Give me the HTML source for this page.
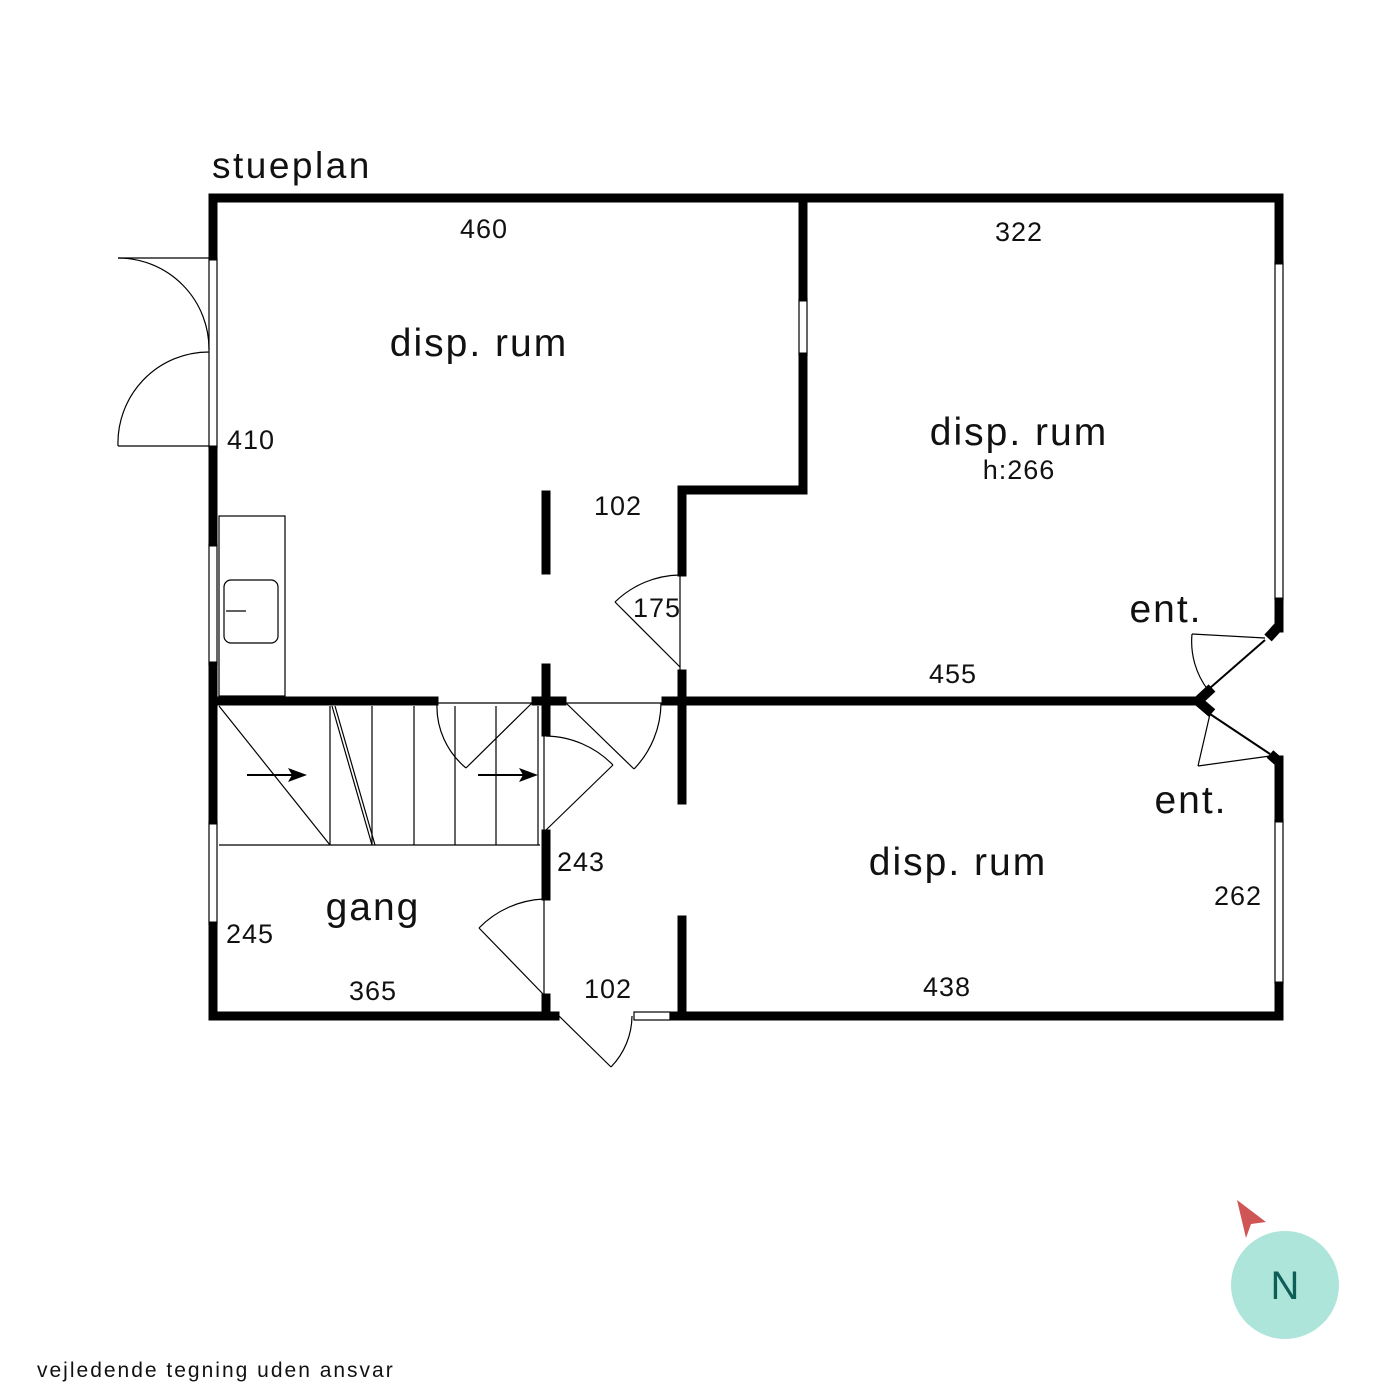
<!DOCTYPE html>
<html><head><meta charset="utf-8"><style>
html,body{margin:0;padding:0;background:#fff;}
svg{display:block;}
text{font-family:"Liberation Sans",sans-serif;fill:#111;}
</style></head><body>
<svg width="1400" height="1400" viewBox="0 0 1400 1400" xmlns="http://www.w3.org/2000/svg">
<g stroke="#000" stroke-width="9" stroke-linecap="square" fill="none">
<line x1="213" y1="198" x2="1279" y2="198"/>
<line x1="213" y1="198" x2="213" y2="256"/>
<line x1="213" y1="450" x2="213" y2="542"/>
<line x1="213" y1="666" x2="213" y2="820"/>
<line x1="213" y1="926" x2="213" y2="1016"/>
<line x1="213" y1="1016" x2="555" y2="1016"/>
<line x1="674" y1="1016" x2="1279" y2="1016"/>
<line x1="1279" y1="198" x2="1279" y2="260"/>
<line x1="1279" y1="602" x2="1279" y2="628"/>
<line x1="1279" y1="760" x2="1279" y2="818"/>
<line x1="1279" y1="986" x2="1279" y2="1016"/>
<line x1="803" y1="198" x2="803" y2="297"/>
<line x1="803" y1="357" x2="803" y2="490"/>
<line x1="682" y1="490" x2="803" y2="490"/>
<line x1="682" y1="490" x2="682" y2="572"/>
<line x1="682" y1="674" x2="682" y2="800"/>
<line x1="682" y1="920" x2="682" y2="1016"/>
<line x1="213" y1="701" x2="434" y2="701"/>
<line x1="666" y1="701" x2="1198" y2="701"/>
<line x1="536" y1="701" x2="562" y2="701"/>
<line x1="546" y1="495" x2="546" y2="570"/>
<line x1="546" y1="668" x2="546" y2="732"/>
<line x1="546" y1="834" x2="546" y2="896"/>
<line x1="546" y1="998" x2="546" y2="1016"/>
</g>
<g stroke="#000" stroke-width="10" fill="none">
<line x1="1279" y1="626" x2="1268" y2="638"/>
<line x1="1198" y1="701" x2="1212" y2="688"/>
<line x1="1198" y1="701" x2="1212" y2="713"/>
<line x1="1279" y1="762" x2="1270" y2="754"/>
</g>
<g stroke="#000" stroke-width="1.2" fill="none">
<rect x="209" y="258" width="8" height="190"/>
<rect x="209" y="544" width="8" height="121"/>
<rect x="209" y="822" width="8" height="102"/>
<rect x="799" y="299" width="8" height="56"/>
<rect x="1275" y="262" width="8" height="338"/>
<rect x="1275" y="820" width="8" height="164"/>
<rect x="634" y="1012" width="36" height="8"/>
<line x1="209" y1="258" x2="118" y2="258"/>
<path d="M118,258 A91,91 0 0 1 209,350"/>
<line x1="209" y1="446" x2="118" y2="446"/>
<path d="M118,446 A91,91 0 0 1 209,352"/>
<rect x="219" y="516" width="66" height="180"/>
<rect x="224" y="580" width="54" height="63" rx="7"/>
<line x1="226" y1="611" x2="246" y2="611"/>
<line x1="219" y1="845" x2="540" y2="845"/>
<line x1="219" y1="706" x2="330" y2="845"/>
<line x1="330" y1="706" x2="330" y2="845"/>
<line x1="332" y1="706" x2="372" y2="845"/>
<line x1="335" y1="706" x2="375" y2="845"/>
<line x1="372" y1="706" x2="372" y2="845"/>
<line x1="414" y1="706" x2="414" y2="845"/>
<line x1="455" y1="706" x2="455" y2="845"/>
<line x1="496" y1="706" x2="496" y2="845"/>
<line x1="538" y1="706" x2="538" y2="845"/>
<line x1="434" y1="703" x2="540" y2="703"/>
<path d="M437,703 A80,80 0 0 0 466,768"/>
<line x1="466" y1="768" x2="532" y2="703"/>
<path d="M546,736 A96,96 0 0 1 613,765"/>
<line x1="613" y1="765" x2="546" y2="830"/>
<line x1="544" y1="736" x2="544" y2="830"/>
<line x1="566" y1="703" x2="662" y2="703"/>
<line x1="566" y1="703" x2="634" y2="769"/>
<path d="M634,769 A96,96 0 0 0 661,703"/>
<line x1="680" y1="575" x2="680" y2="670"/>
<path d="M680,575 A95,95 0 0 0 615,602"/>
<line x1="615" y1="602" x2="680" y2="667"/>
<line x1="544" y1="899" x2="544" y2="995"/>
<path d="M544,899 A96,96 0 0 0 479,928"/>
<line x1="479" y1="928" x2="544" y2="995"/>
<line x1="559" y1="1016" x2="611" y2="1067"/>
<path d="M611,1067 A74,74 0 0 0 632,1016"/>
<line x1="1265" y1="638" x2="1192" y2="634"/>
<path d="M1192,634 A80,80 0 0 0 1208,690"/>
<line x1="1210" y1="714" x2="1198" y2="766"/>
<line x1="1198" y1="766" x2="1270" y2="756"/>
</g>
<g stroke="#000" stroke-width="2" fill="none">
<line x1="1265" y1="640" x2="1210" y2="688"/>
<line x1="1210" y1="714" x2="1270" y2="754"/>
<line x1="247" y1="775" x2="296" y2="775"/>
<line x1="478" y1="775" x2="526" y2="775"/>
</g>
<polygon points="307,775 288,768 292,775 288,782" fill="#000"/>
<polygon points="538,775 519,768 523,775 519,782" fill="#000"/>
<text x="212" y="178" font-size="37" letter-spacing="2.5">stueplan</text>
<g font-size="39" letter-spacing="2" text-anchor="middle">
<text x="479" y="356">disp. rum</text>
<text x="1019" y="445">disp. rum</text>
<text x="958" y="875">disp. rum</text>
<text x="373" y="920">gang</text>
<text x="1166" y="622">ent.</text>
<text x="1191" y="813">ent.</text>
</g>
<text x="1019" y="479" font-size="27" letter-spacing="1" text-anchor="middle">h:266</text>
<g font-size="27" letter-spacing="1" text-anchor="middle">
<text x="484" y="238">460</text>
<text x="1019" y="241">322</text>
<text x="251" y="449">410</text>
<text x="618" y="515">102</text>
<text x="657" y="617">175</text>
<text x="953" y="683">455</text>
<text x="581" y="871">243</text>
<text x="250" y="943">245</text>
<text x="373" y="1000">365</text>
<text x="608" y="998">102</text>
<text x="947" y="996">438</text>
<text x="1238" y="905">262</text>
</g>
<text x="37" y="1377" font-size="21" letter-spacing="2">vejledende tegning uden ansvar</text>
<polygon points="1237,1200 1266,1222 1251,1224 1246,1238" fill="#d05555"/>
<circle cx="1285" cy="1285" r="54" fill="#aee5da"/>
<text x="1285" y="1299" font-size="40" text-anchor="middle" style="fill:#0d5e57">N</text>
</svg>
</body></html>
